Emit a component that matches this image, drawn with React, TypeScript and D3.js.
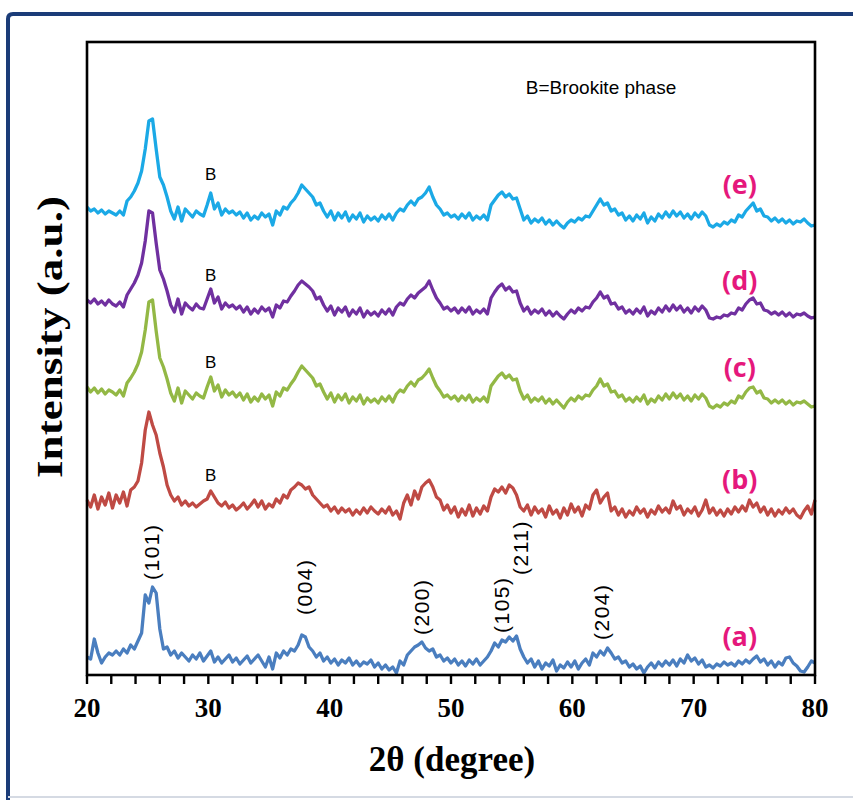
import React from 'react';
import * as d3 from 'd3';

// 2θ sampling (deg), one value per 0.3°
const twoTheta = d3.range(201).map(i => Math.round((20 + i * 0.3) * 10) / 10);

// intensities (a.u., each series relative to its own baseline)
const seriesA = [
  18, 16, 36, 22, 12, 18, 22, 20, 24, 20,
  26, 22, 30, 26, 34, 42, 80, 72, 88, 82,
  46, 26, 28, 20, 24, 17, 22, 18, 14, 20,
  16, 22, 14, 19, 24, 13, 18, 12, 16, 20,
  13, 17, 11, 15, 19, 12, 16, 20, 14, 8,
  18, 6, 22, 17, 24, 20, 26, 24, 30, 40,
  38, 28, 24, 18, 22, 14, 18, 12, 16, 10,
  15, 12, 17, 10, 14, 9, 13, 11, 15, 8,
  12, 6, 10, 5, 8, 2, 14, 10, 20, 24,
  28, 30, 33, 27, 24, 26, 18, 20, 14, 17,
  12, 16, 10, 14, 9, 15, 11, 16, 10, 14,
  18, 24, 32, 28, 35, 33, 38, 34, 39, 26,
  18, 12, 16, 8, 14, 6, 12, 9, 15, 4,
  10, 7, 13, 8, 14, 6, 12, 16, 10, 22,
  18, 24, 20, 27, 22, 16, 18, 12, 14, 8,
  11, 6, 9, 2, 8, 12, 7, 13, 9, 14,
  10, 15, 9, 16, 12, 20, 14, 17, 11, 15,
  8, 10, 7, 11, 9, 13, 10, 12, 9, 14,
  11, 15, 12, 16, 19, 13, 16, 10, 14, 8,
  13, 10, 17, 18, 12, 9, 4, 3, 8, 14,
  12,
];

const seriesB = [
  25, 18, 30, 16, 28, 20, 32, 17, 30, 22,
  33, 19, 35, 38, 44, 62, 95, 113, 100, 90,
  72, 58, 40, 30, 24, 28, 20, 24, 19, 22,
  18, 21, 24, 26, 34, 28, 22, 19, 23, 17,
  20, 15, 18, 22, 16, 20, 25, 18, 24, 16,
  21, 18, 26, 22, 30, 27, 35, 38, 42, 40,
  36, 38, 30, 26, 22, 18, 20, 14, 18, 12,
  17, 13, 16, 10, 15, 11, 17, 12, 18, 14,
  11, 16, 12, 18, 10, 14, 6, 22, 30, 20,
  34, 26, 38, 42, 45, 38, 28, 25, 15, 20,
  12, 18, 8, 16, 10, 20, 9, 17, 11, 19,
  14, 28, 36, 33, 38, 32, 40, 37, 30, 18,
  14, 20, 10, 18, 12, 16, 8, 19, 11, 15,
  7, 17, 10, 21, 13, 18, 9, 20, 16, 30,
  35, 22, 28, 32, 14, 18, 10, 16, 8, 14,
  10, 18, 12, 16, 8, 15, 11, 19, 13, 17,
  12, 24, 16, 19, 10, 16, 12, 18, 9, 15,
  25, 12, 17, 10, 15, 9, 16, 11, 18, 13,
  19, 14, 25, 18, 22, 13, 18, 10, 16, 9,
  15, 11, 17, 12, 16, 10, 7, 14, 19, 11,
  25,
];

const seriesC = [
  28, 23, 27, 22, 26, 21, 25, 23, 20, 25,
  19, 32, 37, 43, 51, 63, 85, 113, 115, 84,
  57, 48, 36, 22, 14, 27, 12, 24, 20, 16,
  22, 19, 17, 28, 38, 24, 30, 18, 25, 20,
  23, 18, 22, 15, 21, 13, 18, 14, 21, 16,
  20, 9, 23, 19, 27, 25, 31, 36, 43, 49,
  45, 41, 37, 29, 31, 23, 16, 22, 13, 20,
  15, 21, 12, 18, 14, 20, 11, 17, 13, 16,
  12, 18, 14, 19, 13, 21, 25, 23, 29, 33,
  29, 35, 37, 41, 46, 37, 29, 24, 18, 20,
  16, 19, 14, 19, 15, 20, 13, 17, 14, 18,
  13, 29, 34, 39, 42, 37, 40, 35, 36, 24,
  16, 20, 13, 17, 14, 18, 12, 16, 11, 15,
  11, 7, 13, 17, 14, 19, 16, 20, 19, 25,
  29, 36, 29, 31, 23, 24, 18, 20, 14, 17,
  13, 18, 14, 20, 11, 16, 13, 19, 15, 21,
  16, 22, 17, 21, 15, 19, 14, 20, 16, 21,
  17, 9, 7, 10, 8, 12, 10, 14, 12, 19,
  17, 23, 27, 28, 22, 24, 17, 16, 12, 15,
  12, 15, 11, 14, 10, 13, 12, 14, 11, 8,
  9,
];

const seriesD = [
  25, 22, 26, 21, 24, 20, 25, 21, 19, 23,
  18, 30, 36, 42, 50, 62, 84, 114, 112, 82,
  55, 46, 34, 20, 13, 26, 11, 22, 18, 15,
  21, 17, 16, 26, 36, 22, 28, 16, 22, 18,
  20, 16, 19, 13, 18, 11, 16, 12, 18, 14,
  17, 8, 20, 17, 24, 23, 29, 34, 40, 44,
  41, 38, 34, 26, 28, 20, 14, 19, 10, 17,
  13, 18, 9, 15, 11, 17, 8, 14, 10, 13,
  9, 15, 11, 16, 10, 18, 22, 20, 26, 30,
  27, 32, 35, 38, 44, 35, 27, 22, 16, 18,
  14, 17, 12, 17, 13, 18, 11, 15, 12, 16,
  11, 27, 33, 38, 41, 35, 38, 33, 34, 22,
  14, 18, 11, 15, 12, 16, 10, 14, 9, 13,
  9, 6, 11, 15, 12, 17, 14, 18, 17, 23,
  27, 33, 27, 29, 21, 22, 16, 18, 12, 15,
  11, 16, 12, 18, 9, 14, 11, 17, 13, 19,
  14, 20, 15, 19, 13, 17, 12, 18, 14, 19,
  15, 7, 6, 8, 7, 10, 9, 12, 11, 17,
  15, 21, 25, 27, 21, 22, 15, 14, 11, 13,
  10, 13, 9, 12, 8, 11, 10, 12, 9, 7,
  8,
];

const seriesE = [
  28, 24, 26, 22, 25, 21, 24, 22, 20, 24,
  20, 34, 38, 44, 52, 64, 86, 114, 116, 86,
  58, 50, 38, 24, 16, 28, 14, 26, 22, 18,
  24, 21, 19, 30, 42, 26, 32, 20, 26, 22,
  24, 20, 23, 17, 22, 15, 19, 16, 22, 18,
  21, 10, 24, 20, 28, 26, 32, 36, 42, 50,
  46, 42, 38, 30, 32, 24, 18, 24, 15, 22,
  17, 23, 14, 20, 16, 22, 13, 19, 15, 18,
  14, 20, 16, 21, 15, 22, 26, 24, 30, 34,
  30, 36, 38, 42, 48, 38, 30, 26, 20, 22,
  18, 20, 16, 21, 17, 22, 15, 19, 16, 20,
  15, 30, 35, 40, 43, 38, 41, 36, 37, 26,
  15, 19, 12, 16, 13, 17, 11, 15, 10, 14,
  10, 7, 12, 15, 13, 17, 15, 19, 18, 24,
  30, 36, 30, 32, 24, 26, 20, 22, 15, 19,
  14, 20, 16, 22, 12, 18, 14, 21, 17, 23,
  18, 24, 19, 23, 17, 21, 16, 22, 18, 23,
  19, 10, 8, 11, 9, 13, 11, 15, 13, 20,
  18, 24, 28, 32, 24, 26, 19, 18, 14, 17,
  13, 16, 12, 15, 11, 14, 13, 16, 12, 9,
  10,
];

const seriesNames = ['(a)', '(b)', '(c)', '(d)', '(e)'];
const seriesColors = ['#4a7ebf', '#bf4a44', '#93b845', '#7030a0', '#1ba9e6'];
const seriesOffsets = [0, 150, 260, 350, 440];
const seriesValues = [seriesA, seriesB, seriesC, seriesD, seriesE];
const seriesLabelLevel = [38, 45, 47, 44, 50];
const seriesLabelTheta = 73.8;

// brookite marks (series b..e)
const brookiteTheta = 30.2;
const brookiteLevels = [null, 50, 53, 50, 61];

// anatase reflections labelled over (a)
const hklNames = ['(101)', '(004)', '(200)', '(105)', '(211)', '(204)'];
const hklTheta = [25.36, 37.97, 47.6, 54.2, 55.7, 62.45];
const hklLevel = [95, 60, 40, 42, 100, 35];

const xTicks = [20, 30, 40, 50, 60, 70, 80];
const xMinorTicks = d3.range(20, 81, 2);

const W = 853;
const H = 809;
const plot = { left: 87, right: 815, top: 42, bottom: 675 };

const serif = '"Liberation Serif", "Times New Roman", serif';
const sans = '"Liberation Sans", Arial, sans-serif';

export default function App() {
  const x = d3.scaleLinear().domain([20, 80]).range([plot.left, plot.right]);
  const y = d3.scaleLinear().domain([0, 633]).range([plot.bottom, plot.top]);

  const line = (vals: number[], off: number) =>
    d3.line<number>()
      .x((_, i) => x(twoTheta[i]))
      .y(v => y(v + off))(vals) || '';

  return (
    <svg width={W} height={H} style={{ position: 'absolute', left: 0, top: 0, background: '#fff' }}>
      <rect x={0} y={0} width={W} height={H} fill="#fff" />
      {/* outer frame */}
      <path d="M 8 800 V 19 Q 8 14 13 14 H 870" fill="none" stroke="#1b3c78" strokeWidth={4} />
      <line x1={8} x2={W} y1={797} y2={797} stroke="#d5dae3" strokeWidth={2} />

      {/* series */}
      {seriesValues.map((vals, k) => (
        <path key={k} d={line(vals, seriesOffsets[k])} fill="none"
          stroke={seriesColors[k]} strokeWidth={3.3} strokeLinejoin="round" />
      ))}

      {/* plot box */}
      <rect x={plot.left} y={plot.top} width={plot.right - plot.left} height={plot.bottom - plot.top}
        fill="none" stroke="#000" strokeWidth={2.6} />

      {xMinorTicks.map(t => (
        <line key={t} x1={x(t)} x2={x(t)} y1={plot.bottom} y2={plot.bottom + 9} stroke="#000" strokeWidth={2.4} />
      ))}
      {xTicks.map(t => (
        <text key={t} x={x(t)} y={717} textAnchor="middle" fontFamily={serif} fontWeight="bold" fontSize={27}>{t}</text>
      ))}
      <text x={452} y={771} textAnchor="middle" fontFamily={serif} fontWeight="bold" fontSize={35}>2θ (degree)</text>
      <text transform="translate(62,478) rotate(-90)" fontFamily={serif} fontWeight="bold" fontSize={35}
        textLength={282} lengthAdjust="spacingAndGlyphs">Intensity (a.u.)</text>

      {/* series labels */}
      {seriesNames.map((n, k) => (
        <text key={n} x={x(seriesLabelTheta)} y={y(seriesOffsets[k] + seriesLabelLevel[k])} dy="0.35em"
          textAnchor="middle" fontFamily='"Open Sans", sans-serif' fontWeight="bold" fontSize={27} fill="#e5187c">{n}</text>
      ))}

      {/* brookite marks */}
      {brookiteLevels.map((lv, k) => lv == null ? null : (
        <text key={k} x={x(brookiteTheta)} y={y(seriesOffsets[k] + lv)} dy="0.35em" textAnchor="middle"
          fontFamily={sans} fontSize={17}>B</text>
      ))}
      <text x={601} y={94} textAnchor="middle" fontFamily={sans} fontSize={19}>B=Brookite phase</text>

      {/* hkl labels */}
      {hklNames.map((n, i) => (
        <text key={n} transform={`translate(${x(hklTheta[i])},${y(hklLevel[i])}) rotate(-90)`} dy="0.35em"
          fontFamily={sans} fontSize={21} letterSpacing={1.5}>{n}</text>
      ))}
    </svg>
  );
}
